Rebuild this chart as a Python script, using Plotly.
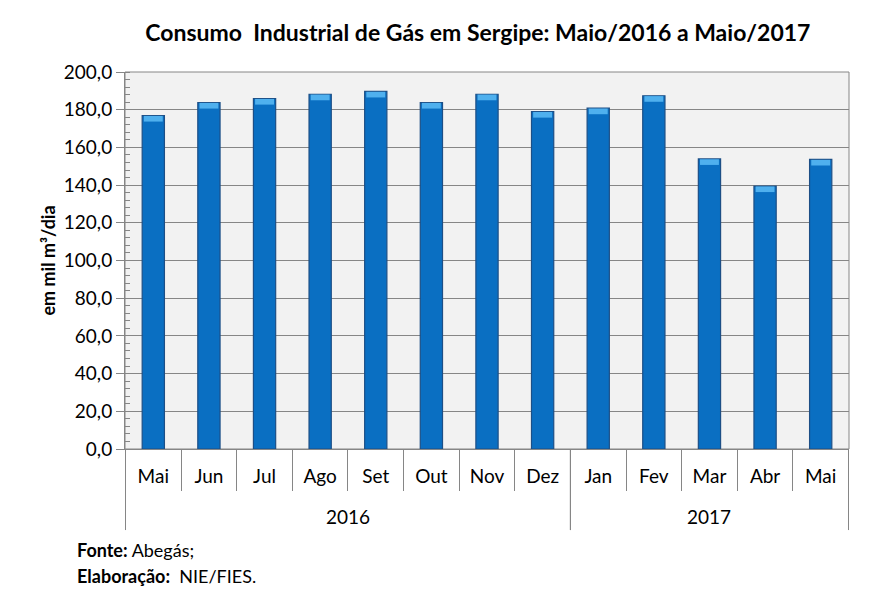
import plotly.graph_objects as go

# Consumo industrial de gás em Sergipe (mil m³/dia)
anos = ["2016"] * 8 + ["2017"] * 5
meses = ["Mai", "Jun", "Jul", "Ago", "Set", "Out", "Nov", "Dez",
         "Jan", "Fev", "Mar", "Abr", "Mai"]
consumo = [176.9, 183.8, 185.9, 188.2, 189.7, 183.8, 188.2, 179.0,
           180.8, 187.4, 153.9, 139.5, 153.6]

FONT = "Lato, Carlito, Calibri, sans-serif"
GRID = "#868686"

# chave única por mês/ano para o eixo categórico
chaves = [m + "/" + a for m, a in zip(meses, anos)]

fig = go.Figure()

fig.add_trace(go.Bar(
    x=chaves,
    y=consumo,
    width=0.4,
    marker=dict(color="#0a6fc2", line=dict(color="#1d4f86", width=1.2)),
    hovertemplate="%{x}: %{y:.1f}<extra></extra>",
))

# faixa clara no topo das barras (efeito de bisel)
bisel = 3
fig.add_trace(go.Bar(
    x=chaves,
    y=[bisel] * len(consumo),
    base=[v - bisel - 0.2 for v in consumo],
    width=0.34,
    marker=dict(color="#4fb0ee", line=dict(width=0)),
    hoverinfo="skip",
))

fig.update_layout(
    width=872,
    height=602,
    margin=dict(l=125, r=23, t=72, b=153),
    paper_bgcolor="white",
    plot_bgcolor="#f2f2f2",
    separators=",.",
    showlegend=False,
    barmode="overlay",
    font=dict(family=FONT, color="black"),
    title=dict(
        text="<b>Consumo  Industrial de Gás em Sergipe: Maio/2016 a Maio/2017</b>",
        x=0.548, xanchor="center", y=0.945, yanchor="middle",
        font=dict(size=23, family=FONT),
    ),
    xaxis=dict(
        type="category",
        tickmode="array", tickvals=chaves, ticktext=meses,
        showline=True, linecolor=GRID, linewidth=1,
        ticks="outside", tickson="boundaries", ticklen=41, tickcolor=GRID,
        ticklabelstandoff=10,
        tickfont=dict(size=19),
        showgrid=False, automargin=False,
    ),
    yaxis=dict(
        range=[0, 200], dtick=20, tickformat=".1f",
        showline=True, linecolor=GRID, linewidth=1,
        ticks="outside", ticklen=8, tickcolor=GRID,
        gridcolor=GRID, gridwidth=1,
        minor=dict(dtick=4, ticks="inside", ticklen=5, tickcolor=GRID, showgrid=False),
        tickfont=dict(size=19),
        title=dict(text="<b>em mil m³/dia</b>", font=dict(size=18), standoff=3),
        zeroline=False, automargin=False,
    ),
)

# contorno da área do gráfico
fig.add_shape(type="rect", xref="paper", yref="paper", x0=0, x1=1, y0=0, y1=1,
              line=dict(color=GRID, width=1), layer="below")

# segundo nível do eixo: anos, com divisórias
grupos = sorted(set(anos))
for ano in grupos:
    idx = [i for i, a in enumerate(anos) if a == ano]
    ini, fim = idx[0] - 0.5, idx[-1] + 0.5
    fig.add_annotation(text=ano, xref="x", yref="paper", x=(ini + fim) / 2, y=-0.18,
                       yanchor="middle", showarrow=False, font=dict(size=19, family=FONT))
    for xb in (ini, fim):
        fig.add_shape(type="line", xref="x", yref="paper", x0=xb, x1=xb, y0=0, y1=-0.215,
                      line=dict(color=GRID, width=1))

fig.add_annotation(
    text="<b>Fonte:</b> Abegás;",
    xref="paper", yref="paper", x=-0.069, y=-0.268, xanchor="left", yanchor="middle",
    align="left", showarrow=False, font=dict(size=18, family=FONT),
)
fig.add_annotation(
    text="<b>Elaboração:</b>  NIE/FIES.",
    xref="paper", yref="paper", x=-0.069, y=-0.337, xanchor="left", yanchor="middle",
    align="left", showarrow=False, font=dict(size=18, family=FONT),
)

fig.write_html("out.html", config={"displayModeBar": False},
               post_script="document.body.style.margin='0';")
